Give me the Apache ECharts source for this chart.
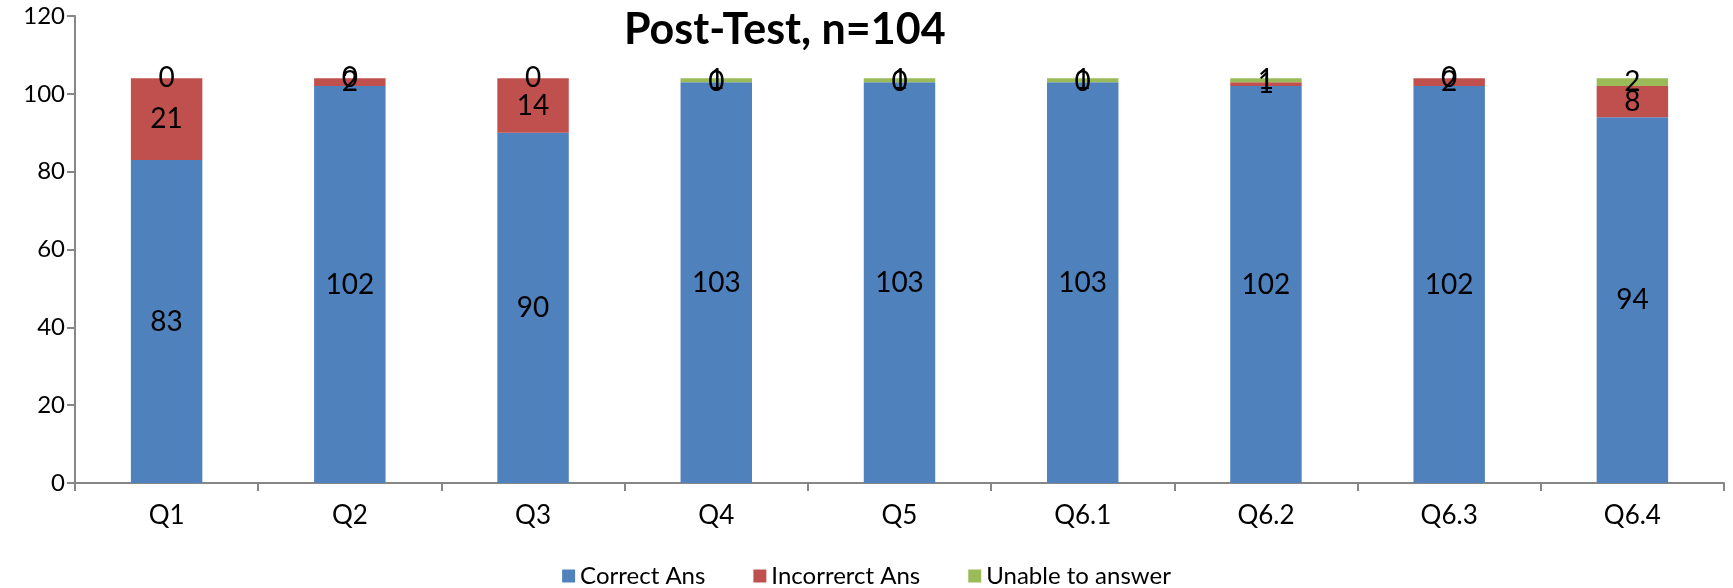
<!DOCTYPE html>
<html>
<head>
<meta charset="utf-8">
<script src="https://cdn.jsdelivr.net/npm/echarts@6/dist/echarts.min.js"></script>
<style>
  html, body { margin: 0; padding: 0; background: #fff; }
  #chart { width: 1733px; height: 588px; }
</style>
</head>
<body>
<div id="chart"></div>
<script>
var questions = ['Q1', 'Q2', 'Q3', 'Q4', 'Q5', 'Q6.1', 'Q6.2', 'Q6.3', 'Q6.4'];
var correctAns = [83, 102, 90, 103, 103, 103, 102, 102, 94];
var incorrectAns = [21, 2, 14, 0, 0, 0, 1, 2, 8];
var unableAns = [0, 0, 0, 1, 1, 1, 1, 0, 2];

var font = 'Lato, "Open Sans", sans-serif';
var axisGray = '#878787';

function seg(name, data, color) {
  return {
    name: name,
    type: 'bar',
    stack: 'total',
    data: data,
    barWidth: '39%',
    itemStyle: { color: color },
    label: {
      show: true,
      position: 'inside',
      color: '#000',
      fontFamily: font,
      fontSize: 28
    }
  };
}

var chart = echarts.init(document.getElementById('chart'));
chart.setOption({
  animation: false,
  title: {
    text: 'Post-Test, n=104',
    left: 619,
    top: 4,
    textStyle: { fontFamily: font, fontWeight: 'bold', fontSize: 43, color: '#000' }
  },
  grid: { left: 75, right: 9, top: 16, bottom: 105 },
  legend: {
    top: 559,
    left: 'center',
    icon: 'rect',
    itemWidth: 13,
    itemHeight: 13,
    itemGap: 48,
    textStyle: { fontFamily: font, fontSize: 24, color: '#000' },
    data: ['Correct Ans', 'Incorrerct Ans', 'Unable to answer']
  },
  xAxis: {
    type: 'category',
    data: questions,
    axisLine: { lineStyle: { color: axisGray, width: 2 } },
    axisTick: { show: true, length: 8, lineStyle: { color: axisGray, width: 2 } },
    axisLabel: { fontFamily: font, fontSize: 26, color: '#000', margin: 20 }
  },
  yAxis: {
    type: 'value',
    min: 0,
    max: 120,
    interval: 20,
    splitLine: { show: false },
    axisLine: { show: true, lineStyle: { color: axisGray, width: 2 } },
    axisTick: { show: true, length: 8, lineStyle: { color: axisGray, width: 2 } },
    axisLabel: { fontFamily: font, fontSize: 24, color: '#000', margin: 10 }
  },
  series: [
    seg('Correct Ans', correctAns, '#4F81BD'),
    seg('Incorrerct Ans', incorrectAns, '#C0504D'),
    seg('Unable to answer', unableAns, '#9BBB59')
  ]
});
</script>
</body>
</html>
